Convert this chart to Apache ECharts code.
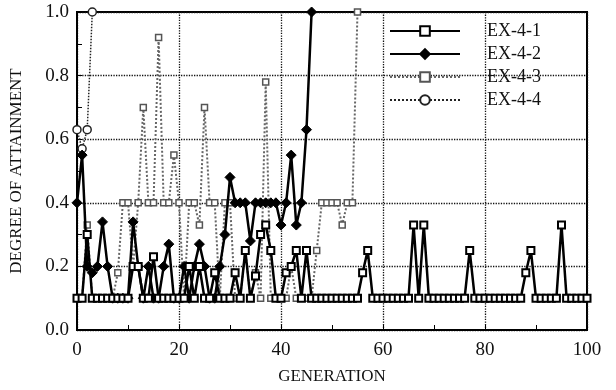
<!DOCTYPE html>
<html>
<head>
<meta charset="utf-8">
<script src="https://cdn.jsdelivr.net/npm/echarts@6/dist/echarts.min.js"></script>
<style>
  html, body { margin: 0; padding: 0; background: #fff; }
  #chart { width: 616px; height: 390px; }
</style>
</head>
<body>
<div id="chart"></div>
<script>
var seriesNames = ["EX-4-1", "EX-4-2", "EX-4-3", "EX-4-4"];

// values per generation, starting at generation 0
var ex41 = [
    0.1, 0.1, 0.3, 0.1, 0.1, 0.1, 0.1, 0.1, 0.1, 0.1,
    0.1, 0.2, 0.2, 0.1, 0.1, 0.23, 0.1, 0.1, 0.1, 0.1,
    0.1, 0.1, 0.2, 0.1, 0.2, 0.1, 0.1, 0.18, 0.1, 0.1,
    0.1, 0.18, 0.1, 0.25, 0.1, 0.17, 0.3, 0.33, 0.25, 0.1,
    0.1, 0.18, 0.2, 0.25, 0.1, 0.25, 0.1, 0.1, 0.1, 0.1,
    0.1, 0.1, 0.1, 0.1, 0.1, 0.1, 0.18, 0.25, 0.1, 0.1,
    0.1, 0.1, 0.1, 0.1, 0.1, 0.1, 0.33, 0.1, 0.33, 0.1,
    0.1, 0.1, 0.1, 0.1, 0.1, 0.1, 0.1, 0.25, 0.1, 0.1,
    0.1, 0.1, 0.1, 0.1, 0.1, 0.1, 0.1, 0.1, 0.18, 0.25,
    0.1, 0.1, 0.1, 0.1, 0.1, 0.33, 0.1, 0.1, 0.1, 0.1,
    0.1
];
var ex42 = [
    0.4, 0.55, 0.2, 0.18, 0.2, 0.34, 0.2, 0.1, 0.1, 0.1,
    0.1, 0.34, 0.2, 0.1, 0.2, 0.1, 0.1, 0.2, 0.27, 0.1,
    0.1, 0.2, 0.1, 0.2, 0.27, 0.2, 0.1, 0.1, 0.2, 0.3,
    0.48, 0.4, 0.4, 0.4, 0.28, 0.4, 0.4, 0.4, 0.4, 0.4,
    0.33, 0.4, 0.55, 0.33, 0.4, 0.63, 1.0
];
var ex43 = [
    0.1, 0.1, 0.33, 0.1, 0.1, 0.1, 0.1, 0.1, 0.18, 0.4,
    0.4, 0.2, 0.4, 0.7, 0.4, 0.4, 0.92, 0.4, 0.4, 0.55,
    0.4, 0.1, 0.4, 0.4, 0.33, 0.7, 0.4, 0.4, 0.1, 0.4,
    0.4, 0.1, 0.1, 0.25, 0.1, 0.18, 0.1, 0.78, 0.1, 0.1,
    0.1, 0.1, 0.2, 0.1, 0.1, 0.1, 0.1, 0.25, 0.4, 0.4,
    0.4, 0.4, 0.33, 0.4, 0.4, 1.0
];
var ex44 = [0.63, 0.57, 0.63, 1.0];

var xTicks = [0, 20, 40, 60, 80, 100];
var yTicks = [0.0, 0.2, 0.4, 0.6, 0.8, 1.0];

function toPairs(arr) {
    return arr.map(function (v, i) { return [i, v]; });
}

var chart = echarts.init(document.getElementById("chart"));
var serif = "Liberation Serif";

chart.setOption({
    animation: false,
    backgroundColor: "#fff",
    grid: {
        left: 70, right: 29, top: 12, bottom: 60,
        show: true, borderColor: "#000", borderWidth: 2
    },
    legend: {
        orient: "vertical",
        left: 384, top: 17,
        itemWidth: 70, itemHeight: 12, itemGap: 5,
        textStyle: {
            fontFamily: serif, fontSize: 18, color: "#111",
            padding: [0, 0, 0, 22]
        },
        data: seriesNames
    },
    xAxis: {
        type: "value",
        min: 0, max: xTicks[xTicks.length - 1], interval: 20,
        name: "GENERATION",
        nameLocation: "middle", nameGap: 38,
        nameTextStyle: { fontFamily: serif, fontSize: 17, color: "#111" },
        axisLine: { lineStyle: { color: "#000", width: 2 } },
        axisTick: { inside: true, length: 5, lineStyle: { color: "#000" } },
        minorTick: { show: true, splitNumber: 2, length: 5, lineStyle: { color: "#000" } },
        axisLabel: { fontFamily: serif, fontSize: 19, color: "#111", margin: 11 },
        splitLine: { lineStyle: { color: "#111", type: "dotted", width: 1.3 } }
    },
    yAxis: {
        type: "value",
        min: 0, max: 1, interval: 0.2,
        name: "DEGREE OF ATTAINMENT",
        nameLocation: "middle", nameGap: 52,
        nameTextStyle: { fontFamily: serif, fontSize: 17, color: "#111" },
        axisLine: { show: true, lineStyle: { color: "#000", width: 2 } },
        axisTick: { inside: true, length: 5, lineStyle: { color: "#000" } },
        minorTick: { show: true, splitNumber: 2, length: 5, lineStyle: { color: "#000" } },
        axisLabel: {
            fontFamily: serif, fontSize: 19, color: "#111", margin: 8,
            formatter: function (v) { return v.toFixed(1); }
        },
        splitLine: { lineStyle: { color: "#111", type: "dotted", width: 1.3 } }
    },
    series: [
        {
            name: seriesNames[2], type: "line", data: toPairs(ex43),
            symbol: "rect", symbolSize: 6,
            itemStyle: { color: "#fff", borderColor: "#555", borderWidth: 1.5 },
            lineStyle: { color: "#666", width: 2, type: "dotted" },
            z: 2
        },
        {
            name: seriesNames[3], type: "line", data: toPairs(ex44),
            symbol: "circle", symbolSize: 8,
            itemStyle: { color: "#fff", borderColor: "#222", borderWidth: 1.5 },
            lineStyle: { color: "#222", width: 1.5, type: "dotted" },
            z: 3
        },
        {
            name: seriesNames[1], type: "line", data: toPairs(ex42),
            symbol: "diamond", symbolSize: 10,
            itemStyle: { color: "#000", borderColor: "#000", borderWidth: 1 },
            lineStyle: { color: "#000", width: 2.5 },
            z: 4
        },
        {
            name: seriesNames[0], type: "line", data: toPairs(ex41),
            symbol: "rect", symbolSize: 7,
            itemStyle: { color: "#fff", borderColor: "#000", borderWidth: 2 },
            lineStyle: { color: "#000", width: 2.5 },
            z: 5
        }
    ]
});
</script>
</body>
</html>
